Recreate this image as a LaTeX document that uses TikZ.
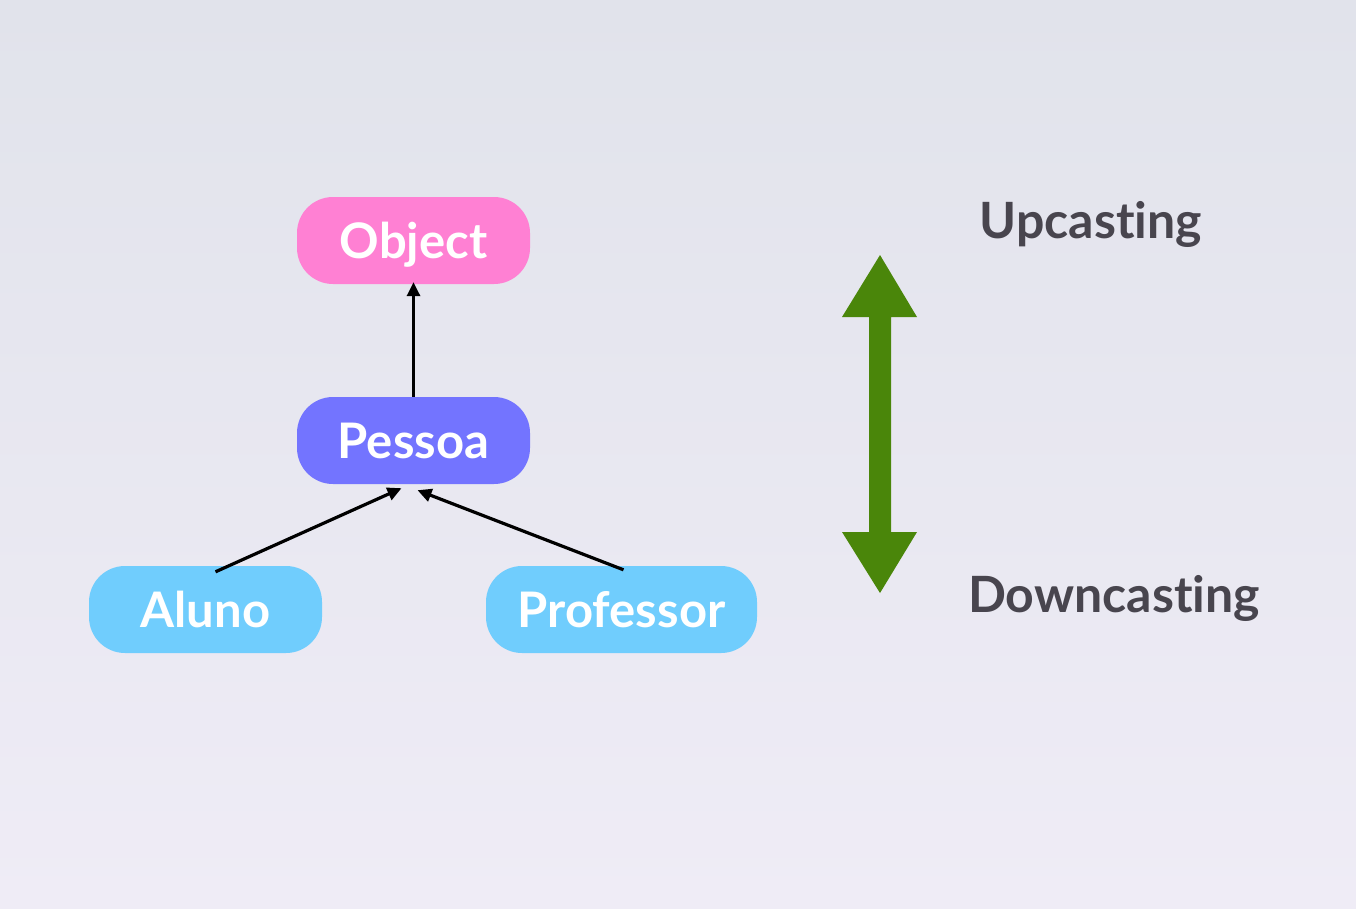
\documentclass[tikz,border=0pt]{standalone}
\usepackage{fontspec}
\setmainfont{Lato}[RawFeature=-liga]
\usetikzlibrary{arrows.meta,calc}
\definecolor{bgtop}{HTML}{E1E3EB}
\definecolor{bgbot}{HTML}{EFECF6}
\definecolor{objpink}{HTML}{FF80D3}
\definecolor{pessoablue}{HTML}{7374FF}
\definecolor{leafblue}{HTML}{70CDFD}
\definecolor{castgreen}{HTML}{4A860A}
\definecolor{labelgray}{HTML}{48454E}
\tikzset{
  classbox/.style={rounded corners=36pt, minimum height=87pt, text=white,
    font=\fontsize{49}{58}\selectfont\bfseries, inner sep=0pt,
    text height=40pt, text depth=4pt},
  inherit/.style={draw=black, line width=3.2pt, -{Triangle[length=14pt,width=13pt]}},
  castlabel/.style={text=labelgray, font=\fontsize{50}{58}\selectfont\bfseries}
}
\begin{document}
\begin{tikzpicture}[x=1pt,y=-1pt]
  % background
  \shade[top color=bgtop, bottom color=bgbot] (0,0) rectangle (1356,908);
  \useasboundingbox (0,0) rectangle (1356,908);

  % class hierarchy
  \node[classbox, fill=objpink, minimum width=233pt] (object) at (413.5,240.5) {Object};
  \node[classbox, fill=pessoablue, minimum width=233pt] (pessoa) at (413.5,440.5) {Pessoa};
  \node[classbox, fill=leafblue, minimum width=233pt] (aluno) at (205.5,609.5) {Aluno};
  \node[classbox, fill=leafblue, minimum width=271pt] (professor) at (621.5,609.5) {Professor};

  \draw[inherit] (pessoa.north) -- ([yshift=2pt]object.south);
  \draw[inherit] ([xshift=10pt,yshift=-6pt]aluno.north) -- ([xshift=-12pt,yshift=-4pt]pessoa.south);
  \draw[inherit] ([xshift=2pt,yshift=-4pt]professor.north) -- ([xshift=4pt,yshift=-6pt]pessoa.south);

  % up/down casting double arrow
  \fill[castgreen] (880,255) -- (917,317) -- (891,317) -- (891,532) -- (917,532)
    -- (880,593) -- (842,532) -- (869,532) -- (869,317) -- (842,317) -- cycle;

  \node[castlabel] (up) at (1091,224) {Upcasting};
  \node[castlabel] (down) at (1114,598) {Downcasting};
\end{tikzpicture}
\end{document}
